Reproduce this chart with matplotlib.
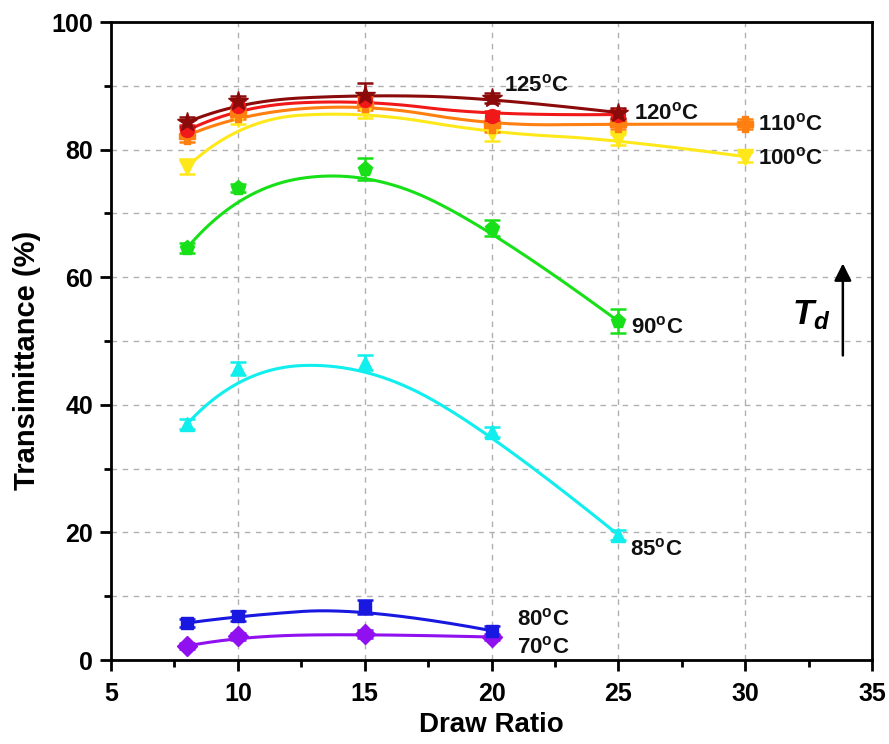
import numpy as np
import matplotlib
matplotlib.use("Agg")
import matplotlib.pyplot as plt

plt.rcParams['font.family'] = ['Liberation Sans', 'DejaVu Sans']
plt.rcParams['mathtext.fontset'] = 'custom'
plt.rcParams['mathtext.rm'] = 'Liberation Sans'
plt.rcParams['mathtext.bf'] = 'Liberation Sans:bold'
plt.rcParams['mathtext.it'] = 'Liberation Sans:italic:bold'

# Draw ratios and transmittance for each drawing temperature
x_70 = [8, 10, 15, 20]
t_70 = [2.2, 3.7, 4.1, 3.6]
e_70 = [0.5, 0.6, 0.6, 0.5]

x_80 = [8, 10, 15, 20]
t_80 = [5.8, 6.9, 8.3, 4.6]
e_80 = [0.7, 0.8, 1.1, 0.8]

x_85 = [8, 10, 15, 20, 25]
t_85 = [37.0, 45.7, 46.6, 35.7, 19.6]
e_85 = [0.8, 1.0, 1.2, 0.8, 0.8]

x_90 = [8, 10, 15, 20, 25]
t_90 = [64.6, 74.0, 77.0, 67.7, 53.1]
e_90 = [0.8, 0.6, 1.7, 1.3, 1.9]

x_100 = [8, 10, 15, 20, 25, 30]
t_100 = [77.3, 84.8, 86.0, 82.6, 81.6, 78.9]
e_100 = [1.2, 0.8, 1.0, 1.2, 0.8, 0.8]

x_110 = [8, 10, 15, 20, 25, 30]
t_110 = [82.2, 85.6, 87.2, 83.8, 84.0, 84.0]
e_110 = [1.0, 0.8, 1.0, 1.0, 0.8, 0.8]

x_120 = [8, 10, 15, 20, 25]
t_120 = [83.0, 86.9, 87.8, 85.3, 85.5]
e_120 = [0.8, 0.8, 1.0, 0.8, 0.8]

x_125 = [8, 10, 15, 20, 25]
t_125 = [84.3, 87.6, 88.6, 88.1, 85.8]
e_125 = [0.8, 0.8, 1.8, 0.8, 0.8]

temps = ['70', '80', '85', '90', '100', '110', '120', '125']
colors = ['#9010F0', '#1818E0', '#10EEEE', '#18E018',
          '#FFE81A', '#FF7F10', '#F01818', '#8B0A0A']
markers = ['D', 's', '^', 'p', 'v', 'P', 'o', '*']
msizes = [10, 9, 10, 11, 11, 11, 10, 15]
series = [(x_70, t_70, e_70), (x_80, t_80, e_80), (x_85, t_85, e_85),
          (x_90, t_90, e_90), (x_100, t_100, e_100), (x_110, t_110, e_110),
          (x_120, t_120, e_120), (x_125, t_125, e_125)]

# label anchor positions (draw ratio, transmittance)
lab_x = [21.0, 21.0, 25.45, 25.5, 30.5, 30.5, 25.6, 20.5]
lab_y = [1.9, 6.3, 17.4, 52.2, 78.7, 83.9, 85.7, 90.0]


def bspline(px, py, n=400, k=2):
    """Clamped uniform B-spline using the data points as control points."""
    P = np.column_stack([px, py]).astype(float)
    m = len(P)
    k = min(k, m - 1)
    inner = np.linspace(0, 1, m - k + 1)
    knots = np.concatenate([np.zeros(k), inner, np.ones(k)])
    ts = np.linspace(0, 1, n)
    ts[-1] -= 1e-10

    def basis(i, p, t):
        if p == 0:
            return 1.0 if knots[i] <= t < knots[i + 1] else 0.0
        a = 0.0
        if knots[i + p] > knots[i]:
            a = (t - knots[i]) / (knots[i + p] - knots[i]) * basis(i, p - 1, t)
        b = 0.0
        if knots[i + p + 1] > knots[i + 1]:
            b = (knots[i + p + 1] - t) / (knots[i + p + 1] - knots[i + 1]) * basis(i + 1, p - 1, t)
        return a + b

    out = np.array([sum(basis(i, k, t) * P[i] for i in range(m)) for t in ts])
    return out[:, 0], out[:, 1]


fig = plt.figure(figsize=(8.89, 7.44), dpi=100)
ax = fig.add_axes([0.1249, 0.1129, 0.856, 0.8575])

for (xs, ts, es), c, mk, ms in zip(series, colors, markers, msizes):
    cx, cy = bspline(xs, ts)
    ax.plot(cx, cy, color=c, lw=2.2, zorder=3)
    ax.errorbar(xs, ts, yerr=es, fmt=mk, color=c, ms=ms, mec=c,
                ecolor=c, elinewidth=1.8, capsize=6, capthick=1.8, zorder=4)

for tt, lx, ly in zip(temps, lab_x, lab_y):
    ax.text(lx, ly, r'$\mathbf{' + tt + r'^{o}C}$', fontsize=16,
            va='center', ha='left', color='#111111', zorder=5)

# temperature direction arrow
ax.annotate('', xy=(33.85, 62.6), xytext=(33.85, 47.3),
            arrowprops=dict(arrowstyle='-|>', color='black', lw=1.8,
                            mutation_scale=26))
ax.text(32.6, 54.0, r'$\mathit{T_d}$', fontsize=25, ha='center', va='center')

ax.set_xlim(5, 35)
ax.set_ylim(0, 100)
ax.set_xticks([5, 10, 15, 20, 25, 30, 35])
ax.set_yticks([0, 20, 40, 60, 80, 100])
ax.set_xticks(np.arange(7.5, 35, 5), minor=True)
ax.set_yticks(np.arange(10, 100, 20), minor=True)
ax.grid(True, which='major', axis='x', ls=(0, (4, 4)), color='#b0b0b0', lw=1.0)
ax.grid(True, which='both', axis='y', ls=(0, (4, 4)), color='#b0b0b0', lw=1.0)
ax.set_axisbelow(True)

for s in ax.spines.values():
    s.set_linewidth(2.0)
ax.tick_params(which='major', direction='out', length=8, width=2.0,
               labelsize=18, pad=5)
ax.tick_params(axis='x', which='major', pad=8)
ax.tick_params(which='minor', direction='out', length=5, width=2.0)
for lab in ax.get_xticklabels() + ax.get_yticklabels():
    lab.set_fontweight('bold')

ax.set_xlabel('Draw Ratio', fontsize=20, fontweight='bold', labelpad=4)
ax.set_ylabel('Transimittance (%)', fontsize=21, fontweight='bold')
ax.yaxis.set_label_coords(-0.092, 0.47)

fig.savefig('out.png', dpi=100)
